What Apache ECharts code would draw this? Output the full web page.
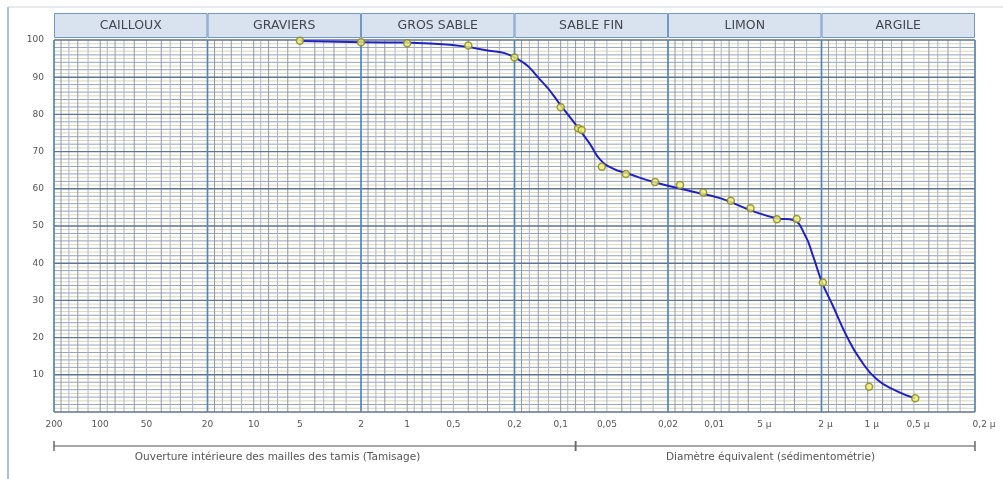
<!DOCTYPE html>
<html><head><meta charset="utf-8">
<script src="https://cdn.jsdelivr.net/npm/echarts@6.0.0/dist/echarts.min.js"></script>
<style>html,body{margin:0;padding:0;background:#fff}#c{width:1003px;height:479px}</style>
</head><body><div id="c"></div>
<script>
// ---- data ----
const classNames = ['CAILLOUX', 'GRAVIERS', 'GROS SABLE', 'SABLE FIN', 'LIMON', 'ARGILE'];
const classBounds = [200, 20, 2, 0.2, 0.02, 0.002, 0.0002];
const xTickValues = [200, 100, 50, 20, 10, 5, 2, 1, 0.5, 0.2, 0.1, 0.05, 0.02, 0.01, 0.005, 0.002, 0.001, 0.0005, 0.0002];
const xTickLabels = ['200', '100', '50', '20', '10', '5', '2', '1', '0,5', '0,2', '0,1', '0,05', '0,02', '0,01', '5 µ', '2 µ', '1 µ', '0,5 µ', '0,2 µ'];
const yTickValues = [10, 20, 30, 40, 50, 60, 70, 80, 90, 100];
const minorDecade = [180, 160, 140, 120, 100, 90, 80, 70, 60, 50, 40, 35, 30, 25]; // grid lines within 200..20
const pointDiam = [5, 2, 1, 0.4, 0.2, 0.1, 0.077, 0.073, 0.054, 0.0376, 0.0243, 0.0167, 0.0118, 0.0078, 0.0058, 0.0039, 0.0029, 0.00196, 0.00098, 0.00049];
const pointPct  = [99.8, 99.4, 99.1, 98.5, 95.3, 81.9, 76.3, 75.8, 65.9, 64.0, 61.8, 61.0, 59.0, 56.8, 54.8, 51.8, 51.9, 34.8, 6.8, 3.7];
const curveDiam = [4.94, 1.95, 0.985, 0.526, 0.319, 0.1955, 0.1298, 0.0985, 0.0767, 0.0644, 0.0555, 0.0456, 0.0365, 0.0251, 0.01375, 0.00916, 0.00559, 0.00392, 0.00307, 0.00256, 0.00226, 0.00199, 0.001675, 0.00137, 0.001122, 0.000873, 0.000647, 0.000492];
const curvePct  = [99.7, 99.4, 99.3, 98.7, 97.4, 95.1, 88.4, 82.1, 76.3, 72.0, 67.9, 65.4, 64.1, 61.9, 59.2, 57.5, 54.0, 52.1, 51.6, 47.5, 41.7, 35.0, 28.3, 20.4, 14.2, 8.8, 5.6, 3.7];
const methodSplit = [200, 0.08, 0.0002];
const methodTitles = ['Ouverture intérieure des mailles des tamis (Tamisage)', 'Diamètre équivalent (sédimentométrie)'];
const methodTitleAt = [7, 0.0043];

// ---- derived ----
const X0 = classBounds[0], X1 = classBounds[classBounds.length - 1];
const FONT = 'DejaVu Sans';
const yMinor = [];
for (let v = 1; v < 100; v++) if (v % 10 !== 0) yMinor.push(v);
const yMajor = [0].concat(yTickValues);
const xMinor = [];
for (let k = 0; k < 6; k++) minorDecade.forEach((m, i) => xMinor.push([m / Math.pow(10, k), i]));

function hLine(color, width) {
  return function (params, api) {
    const v = api.value(1);
    const a = api.coord([X0, v]), b = api.coord([X1, v]);
    const c = typeof color === 'function' ? color(v) : color;
    return { type: 'line', shape: { x1: a[0], y1: a[1], x2: b[0], y2: b[1] }, style: { stroke: c, lineWidth: width } };
  };
}
function vLine(color, width) {
  return function (params, api) {
    const d = api.value(0);
    const a = api.coord([d, 0]), b = api.coord([d, 100]);
    const c = typeof color === 'function' ? color(api.value(1)) : color;
    return { type: 'line', shape: { x1: a[0], y1: a[1], x2: b[0], y2: b[1] }, style: { stroke: c, lineWidth: width } };
  };
}

const chart = echarts.init(document.getElementById('c'), null, { renderer: 'canvas' });
chart.setOption({
  animation: false,
  backgroundColor: '#ffffff',
  grid: { left: 54, right: 28, top: 40, bottom: 67 },
  xAxis: { type: 'log', logBase: 10, min: X1, max: X0, inverse: true,
    axisLine: { show: false }, axisTick: { show: false }, axisLabel: { show: false }, splitLine: { show: false } },
  yAxis: { type: 'value', min: 0, max: 100, interval: 10,
    axisLine: { show: false }, axisTick: { show: false }, splitLine: { show: false },
    axisLabel: { formatter: v => (v === 0 ? '' : String(v)), color: '#555', fontSize: 9, fontFamily: FONT, margin: 10 } },
  graphic: [
    { type: 'line', shape: { x1: 8, y1: 7, x2: 8, y2: 479 }, style: { stroke: '#a8c2e2', lineWidth: 2 } },
    { type: 'line', shape: { x1: 8, y1: 7, x2: 1003, y2: 7 }, style: { stroke: '#cfd5dd', lineWidth: 1 } }
  ],
  series: [
    { type: 'custom', name: 'hMinor', silent: true, z: 1, data: yMinor.map(v => [X0, v]),
      renderItem: hLine(v => (v % 2 ? '#d8d8bc' : '#9aa3b3'), 1) },
    { type: 'custom', name: 'vMinor', silent: true, z: 1, data: xMinor,
      renderItem: vLine(i => (i % 2 ? '#aab7c8' : '#8f99aa'), 1) },
    { type: 'custom', name: 'hMajor', silent: true, z: 2, data: yMajor.map(v => [X0, v]),
      renderItem: hLine('#5f7393', 1.4) },
    { type: 'custom', name: 'vMajor', silent: true, z: 2, data: classBounds.map(d => [d, 0]),
      renderItem: vLine('#5286b8', 1.7) },
    { type: 'custom', name: 'header', silent: true, z: 3, clip: false,
      data: classNames.map((n, i) => [classBounds[i], 100, classBounds[i + 1], i]),
      renderItem: function (params, api) {
        const a = api.coord([api.value(0), 100]), b = api.coord([api.value(2), 100]);
        const name = classNames[api.value(3)];
        return { type: 'group', children: [
          { type: 'rect', shape: { x: a[0] + 0.5, y: a[1] - 26.5, width: b[0] - a[0] - 1, height: 24 },
            style: { fill: '#d9e2ef', stroke: '#7298c4', lineWidth: 1 } },
          { type: 'text', style: { x: (a[0] + b[0]) / 2, y: a[1] - 14.5, text: name, align: 'center', verticalAlign: 'middle',
            fill: '#44484e', fontSize: 12.5, fontFamily: FONT } }
        ] };
      } },
    { type: 'custom', name: 'xTicks', silent: true, z: 3, clip: false,
      data: xTickValues.map((v, i) => [v, 0, i]),
      renderItem: function (params, api) {
        const p = api.coord([api.value(0), 0]);
        const i = api.value(2);
        const lab = xTickLabels[i];
        const dx = lab.indexOf('µ') >= 0 ? (i === xTickLabels.length - 1 ? 9 : 4) : 0;
        return { type: 'text', style: { x: p[0] + dx, y: p[1] + 13, text: lab, align: 'center', verticalAlign: 'middle',
          fill: '#555', fontSize: 9, fontFamily: FONT } };
      } },
    { type: 'custom', name: 'methods', silent: true, z: 3, clip: false,
      data: methodTitles.map((t, i) => [methodSplit[i], 0, methodSplit[i + 1], i]),
      renderItem: function (params, api) {
        const a = api.coord([api.value(0), 0]), b = api.coord([api.value(2), 0]);
        const i = api.value(3);
        const t = api.coord([methodTitleAt[i], 0]);
        const y = a[1] + 34;
        return { type: 'group', children: [
          { type: 'line', shape: { x1: a[0], y1: y, x2: b[0], y2: y }, style: { stroke: '#8a8a8a', lineWidth: 1.5 } },
          { type: 'line', shape: { x1: a[0], y1: y - 5, x2: a[0], y2: y + 5 }, style: { stroke: '#6a6a6a', lineWidth: 1.5 } },
          { type: 'line', shape: { x1: b[0], y1: y - 5, x2: b[0], y2: y + 5 }, style: { stroke: '#6a6a6a', lineWidth: 1.5 } },
          { type: 'text', style: { x: t[0], y: y + 11, text: methodTitles[i], align: 'center', verticalAlign: 'middle',
            fill: '#555', fontSize: 10.5, fontFamily: FONT } }
        ] };
      } },
    { type: 'line', name: 'courbe', z: 5, smooth: 0.5, showSymbol: false, symbol: 'none',
      data: curveDiam.map((d, i) => [d, curvePct[i]]),
      lineStyle: { color: '#2222c4', width: 2 } },
    { type: 'scatter', name: 'points', z: 6, symbol: 'circle', symbolSize: 7,
      data: pointDiam.map((d, i) => [d, pointPct[i]]),
      itemStyle: { color: '#f1f07a', borderColor: '#86861c', borderWidth: 1.5 } }
  ]
});
</script>
</body></html>
